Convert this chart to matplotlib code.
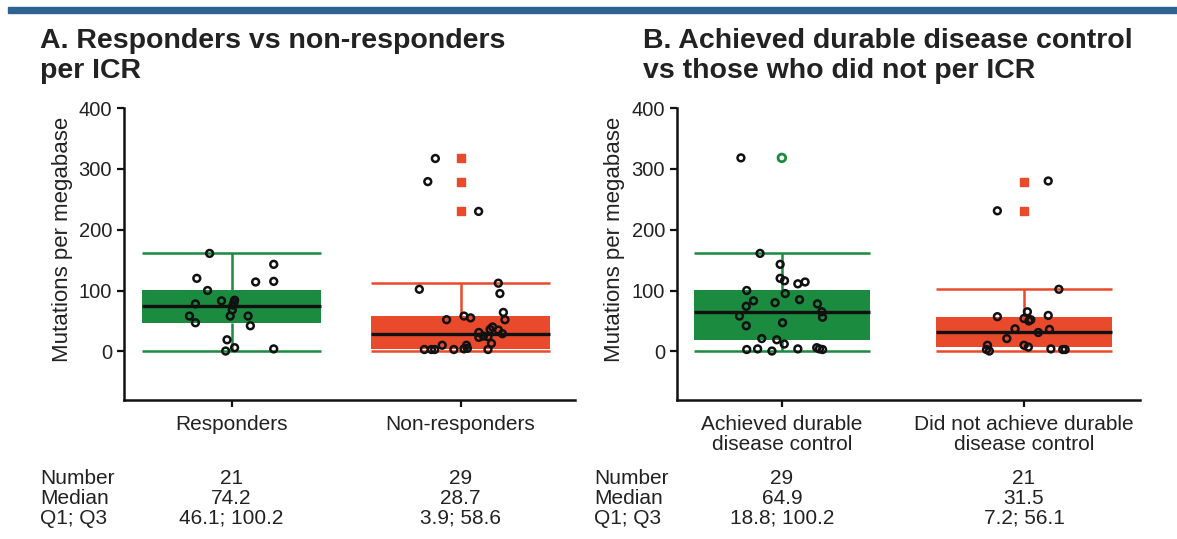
import numpy as np
import matplotlib
matplotlib.use("Agg")
import matplotlib.pyplot as plt
from matplotlib.patches import Rectangle
import matplotlib.transforms as mtransforms

plt.rcParams['font.family'] = ['Liberation Sans', 'DejaVu Sans']

GREEN = '#1b8b3f'
RED = '#ea4a2c'
TXT = '#222222'

# Panel A: responders vs non-responders
a_groups = ['Responders', 'Non-responders']
a_number = ['21', '29']
a_median = ['74.2', '28.7']
a_q1q3 = ['46.1; 100.2', '3.9; 58.6']
a_q1 = [46.1, 3.9]
a_med = [74.2, 28.7]
a_q3 = [100.2, 58.6]
a_wlo = [0, 0]
a_whi = [162, 112]

a_resp_y = [161, 143, 120, 114, 115, 100, 78, 83, 84, 76, 68, 58, 58, 58, 47, 42, 19, 0.5, 6, 4, 80]
a_resp_jit = [-0.096, 0.184, -0.152, 0.105, 0.184, -0.105, -0.158, -0.044, 0.013, 0.006, 0.003,
              -0.006, -0.184, 0.072, -0.158, 0.082, -0.02, -0.026, 0.013, 0.184, 0.01]
a_non_y = [317, 279, 230, 102, 112, 95, 64, 52, 52, 58, 55, 31, 23, 36, 24, 35, 29, 13, 3,
           10, 4, 3, 10, 3, 3, 3, 25, 40, 5]
a_non_jit = [-0.11, -0.143, 0.079, -0.18, 0.165, 0.172, 0.187, 0.194, -0.061, 0.015, 0.044,
             0.08, 0.08, 0.129, 0.12, 0.165, 0.183, 0.135, 0.12, 0.026, 0.015, -0.029, -0.08,
             -0.113, -0.127, -0.158, 0.1, 0.14, 0.03]
a_non_out = [318, 279, 230]

# Panel B: durable disease control
b_groups = ['Achieved durable\ndisease control', 'Did not achieve durable\ndisease control']
b_number = ['29', '21']
b_median = ['64.9', '31.5']
b_q1q3 = ['18.8; 100.2', '7.2; 56.1']
b_q1 = [18.8, 7.2]
b_med = [64.9, 31.5]
b_q3 = [100.2, 56.1]
b_wlo = [0, 0]
b_whi = [161, 102]

b_ach_y = [318, 161, 143, 120, 116, 111, 114, 100, 95, 83, 85, 80, 74, 78, 65, 56, 58, 47, 42,
           21, 19, 12, 3, 4, 0.5, 4, 6, 3, 4]
b_ach_jit = [-0.169, -0.09, -0.007, -0.007, 0.011, 0.066, 0.096, -0.145, 0.014, -0.117, 0.073,
             -0.028, -0.147, 0.147, 0.165, 0.168, -0.175, 0.003, -0.147, -0.083, -0.021, 0.01,
             -0.145, -0.1, -0.041, 0.066, 0.144, 0.168, 0.155]
b_ach_out = [318]
b_not_y = [280, 231, 102, 65, 54, 52, 57, 59, 37, 36, 31, 21, 10, 7, 10, 3, 0.5, 4, 3, 3, 50]
b_not_jit = [0.1, -0.11, 0.144, 0.014, 0.0, 0.028, -0.11, 0.1, -0.037, 0.105, 0.059, -0.071,
             0.0, 0.018, -0.151, -0.155, -0.143, 0.111, 0.16, 0.17, 0.02]
b_not_out = [279, 230]

fig = plt.figure(figsize=(11.77, 5.39), dpi=100)
fig.patches.append(Rectangle((8 / 1177, 1 - 13 / 539), 1, 6 / 539, transform=fig.transFigure,
                             color='#2f6191', zorder=0))


def draw_panel(ax, q1, med, q3, wlo, whi, width, pts, colors):
    x = np.arange(len(q1))
    ax.bar(x, np.array(q3) - np.array(q1), bottom=q1, width=width, color=colors, zorder=1)
    ax.hlines(med, x - width / 2, x + width / 2, color='#111111', lw=2.4, zorder=2)
    ax.hlines(whi, x - width / 2, x + width / 2, colors=colors, lw=1.8, zorder=1)
    ax.hlines(wlo, x - width / 2, x + width / 2, colors=colors, lw=1.8, zorder=1)
    ax.vlines(x, q3, whi, colors=colors, lw=1.8, zorder=1)
    ax.vlines(x, wlo, q1, colors=colors, lw=1.8, zorder=1)
    for i, (vals, jit) in enumerate(pts):
        ax.scatter(i + np.array(jit), vals, s=24, facecolors='none', edgecolors='#111111',
                   linewidths=1.8, zorder=3)
    ax.set_ylim(-80, 400)
    ax.set_yticks([0, 100, 200, 300, 400])
    ax.set_xticks(x)
    ax.set_xticklabels([])
    for s in ['top', 'right']:
        ax.spines[s].set_visible(False)
    for s in ['left', 'bottom']:
        ax.spines[s].set_linewidth(1.8)
        ax.spines[s].set_color('#111111')
    ax.tick_params(direction='out', length=5, width=1.6, colors='#111111',
                   labelsize=14.5, labelcolor=TXT)
    ax.set_ylabel('Mutations per megabase', fontsize=16, color=TXT)
    ax.yaxis.set_label_coords(-0.113, 0.55)


axA = fig.add_axes([124 / 1177, 1 - 400 / 539, 451 / 1177, 292 / 539])
draw_panel(axA, a_q1, a_med, a_q3, a_wlo, a_whi, 0.78,
           [(a_resp_y, a_resp_jit), (a_non_y, a_non_jit)], [GREEN, RED])
axA.set_xlim(-0.47, 1.5)
axA.scatter([1] * len(a_non_out), a_non_out, marker='s', s=34, color=RED, zorder=3)

axB = fig.add_axes([677 / 1177, 1 - 400 / 539, 463 / 1177, 292 / 539])
draw_panel(axB, b_q1, b_med, b_q3, b_wlo, b_whi, 0.725,
           [(b_ach_y, b_ach_jit), (b_not_y, b_not_jit)], [GREEN, RED])
axB.set_xlim(-0.433, 1.479)
axB.scatter([0] * len(b_ach_out), b_ach_out, s=30, facecolors='none', edgecolors=GREEN,
            linewidths=2, zorder=3)
axB.scatter([1] * len(b_not_out), b_not_out, marker='s', s=34, color=RED, zorder=3)

# titles
fig.text(40 / 1177, 1 - 28 / 539, 'A. Responders vs non-responders\nper ICR', fontsize=20.5,
         fontweight='bold', color=TXT, va='top', ha='left', linespacing=1.2)
fig.text(643 / 1177, 1 - 28 / 539, 'B. Achieved durable disease control\nvs those who did not per ICR',
         fontsize=20.5, fontweight='bold', color=TXT, va='top', ha='left', linespacing=1.2)

# category labels and stats table
for ax, groups, num, medn, qq, xlab in [(axA, a_groups, a_number, a_median, a_q1q3, 40),
                                        (axB, b_groups, b_number, b_median, b_q1q3, 594)]:
    tr = mtransforms.blended_transform_factory(ax.transData, fig.transFigure)
    for i in range(len(groups)):
        ax.text(i, 1 - 415 / 539, groups[i], transform=tr, ha='center', va='top',
                fontsize=15, color=TXT, linespacing=1.05)
        ax.text(i, 1 - 478 / 539, num[i], transform=tr, ha='center', va='center',
                fontsize=15, color=TXT)
        ax.text(i, 1 - 498 / 539, medn[i], transform=tr, ha='center', va='center',
                fontsize=15, color=TXT)
        ax.text(i, 1 - 518 / 539, qq[i], transform=tr, ha='center', va='center',
                fontsize=15, color=TXT)
    for yy, lab in zip([478, 498, 518], ['Number', 'Median', 'Q1; Q3']):
        fig.text(xlab / 1177, 1 - yy / 539, lab, ha='left', va='center', fontsize=15, color=TXT)

fig.savefig('out.png', dpi=100)
